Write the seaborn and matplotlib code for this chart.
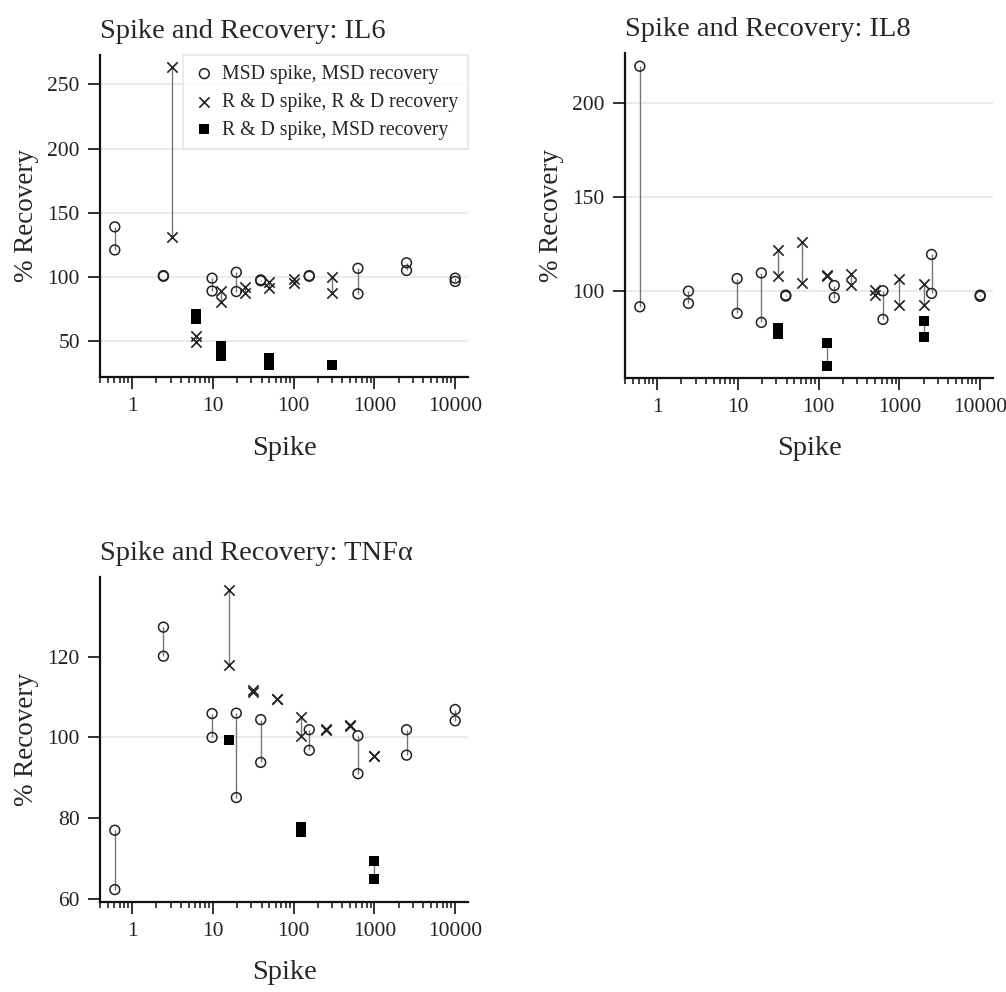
import numpy as np
import pandas as pd
import matplotlib
matplotlib.use('Agg')
import matplotlib.pyplot as plt
import seaborn as sns
from matplotlib.ticker import NullFormatter, LogLocator

# spike levels and the two recovery readings at each level
# IL6
il6_msd_x = [0.61, 2.44, 9.77, 19.5, 39.1, 156, 625, 2500, 10000]
il6_msd_a = [139, 101, 99, 103.6, 97.7, 101, 106.7, 111, 99]
il6_msd_b = [121, 100.5, 89, 88.6, 97, 100.5, 86.8, 105, 96.5]
il6_rd_x = [3.125, 6.25, 12.5, 25, 50, 100, 300]
il6_rd_a = [264, 54, 89.3, 92.5, 96.4, 98.4, 99.8]
il6_rd_b = [131, 49.2, 80.8, 87.3, 91.2, 95.6, 87.3]
il6_mix_x = [6.25, 12.5, 50, 300]
il6_mix_a = [71, 46.3, 37, 31.5]
il6_mix_b = [67.5, 38, 31, 31]

# IL8
il8_msd_x = [0.61, 2.44, 9.77, 19.5, 39.1, 156, 625, 2500, 10000]
il8_msd_a = [219.5, 100, 106.7, 109.7, 97.9, 103, 100.2, 119.5, 97.9]
il8_msd_b = [91.7, 93.5, 88.2, 83.4, 97.4, 96.6, 85, 98.8, 97.3]
il8_rd_x = [31.25, 62.5, 125, 250, 500, 1000, 2000]
il8_rd_a = [121.8, 125.9, 108.5, 109, 100.5, 106.7, 103.7]
il8_rd_b = [108, 104.6, 108, 103.5, 97.9, 92.6, 92.6]
il8_mix_x = [31.25, 125, 2000]
il8_mix_a = [80.4, 72.6, 84.2]
il8_mix_b = [77.3, 60.4, 75.7]

# TNFa
tnf_msd_x = [0.61, 2.44, 9.77, 19.5, 39.1, 156, 625, 2500, 10000]
tnf_msd_a = [77, 127.3, 105.9, 106, 104.4, 101.9, 100.4, 101.9, 106.9]
tnf_msd_b = [62.3, 120.1, 100, 85.1, 93.8, 96.8, 91, 95.6, 104.1]
tnf_rd_x = [15.625, 31.25, 62.5, 125, 250, 500, 1000]
tnf_rd_a = [136.6, 111.8, 109.6, 105, 102.1, 103.1, 95.3]
tnf_rd_b = [117.9, 111.2, 109.4, 100.4, 101.9, 102.8, 95.3]
tnf_mix_x = [15.625, 125, 1000]
tnf_mix_a = [99.4, 77.7, 69.3]
tnf_mix_b = [99.4, 76.6, 65]

series_labels = ['MSD spike, MSD recovery', 'R & D spike, R & D recovery',
                 'R & D spike, MSD recovery']
xtick_vals = [1, 10, 100, 1000, 10000]
xtick_labels = ['1', '10', '100', '1000', '10000']

sns.set_theme(style='ticks')
plt.rcParams['font.family'] = ['Liberation Serif', 'DejaVu Serif']

fig = plt.figure(figsize=(10.06, 9.92), dpi=100)

panels = [
    ('IL6', [0.0994, 0.620, 0.366, 0.3246], (22, 273), [50, 100, 150, 200, 250],
     [(il6_msd_x, il6_msd_a, il6_msd_b), (il6_rd_x, il6_rd_a, il6_rd_b),
      (il6_mix_x, il6_mix_a, il6_mix_b)], True),
    ('IL8', [0.6213, 0.6192, 0.366, 0.3273], (54, 226.5), [100, 150, 200],
     [(il8_msd_x, il8_msd_a, il8_msd_b), (il8_rd_x, il8_rd_a, il8_rd_b),
      (il8_mix_x, il8_mix_a, il8_mix_b)], False),
    ('TNF\u03b1', [0.0994, 0.091, 0.366, 0.3273], (59.3, 139.7), [60, 80, 100, 120],
     [(tnf_msd_x, tnf_msd_a, tnf_msd_b), (tnf_rd_x, tnf_rd_a, tnf_rd_b),
      (tnf_mix_x, tnf_mix_a, tnf_mix_b)], False),
]

styles = [
    dict(marker='o', s=50, facecolor='none', edgecolor='#222222', linewidth=1.1),
    dict(marker='x', s=55, color='#222222', linewidth=1.2),
    dict(marker='s', s=55, color='black', linewidth=0),
]

for name, pos, ylim, yticks, data, show_legend in panels:
    ax = fig.add_axes(pos)
    # light grid at every multiple of 50
    for g in range(50, 300, 50):
        if ylim[0] < g < ylim[1]:
            ax.axhline(g, color='#ebebeb', lw=1.5, zorder=0)
    for (xs, ya, yb), lab, st in zip(data, series_labels, styles):
        ax.vlines(xs, np.minimum(ya, yb), np.maximum(ya, yb), color='#777777', lw=1, zorder=1)
        df = pd.DataFrame({'Spike': xs + xs, 'Recovery': ya + yb})
        sns.scatterplot(data=df, x='Spike', y='Recovery', ax=ax, label=lab, zorder=3, **st)
    ax.set_xscale('log')
    ax.set_xlim(0.4, 14500)
    ax.set_ylim(*ylim)
    ax.set_xticks(xtick_vals, xtick_labels)
    ax.xaxis.set_minor_locator(LogLocator(base=10, subs=np.arange(2, 10)))
    ax.xaxis.set_minor_formatter(NullFormatter())
    ax.set_yticks(yticks)
    ax.tick_params(axis='both', which='major', direction='out', length=8.5, width=1.3,
                   labelsize=15.5, colors='#222222', pad=6)
    ax.tick_params(axis='x', which='minor', direction='out', length=4.5, width=1.2,
                   colors='#222222')
    sns.despine(ax=ax)
    for sp in ['left', 'bottom']:
        ax.spines[sp].set_linewidth(1.6)
        ax.spines[sp].set_color('#111111')
    ax.set_title('Spike and Recovery: ' + name, loc='left', fontsize=20.5, pad=12)
    ax.set_xlabel('Spike', fontsize=20.5, labelpad=14)
    ax.set_ylabel('% Recovery', fontsize=19.5, labelpad=6)
    if show_legend:
        leg = ax.legend(loc='upper right', borderaxespad=0, fontsize=14.2, frameon=True,
                        fancybox=False, edgecolor='#e0e0e0', handletextpad=0.3,
                        handlelength=1.2, labelspacing=0.45, borderpad=0.5)
        leg.get_frame().set_linewidth(1.2)
    else:
        ax.get_legend().remove()

fig.savefig('out.png', dpi=100, facecolor='white')
